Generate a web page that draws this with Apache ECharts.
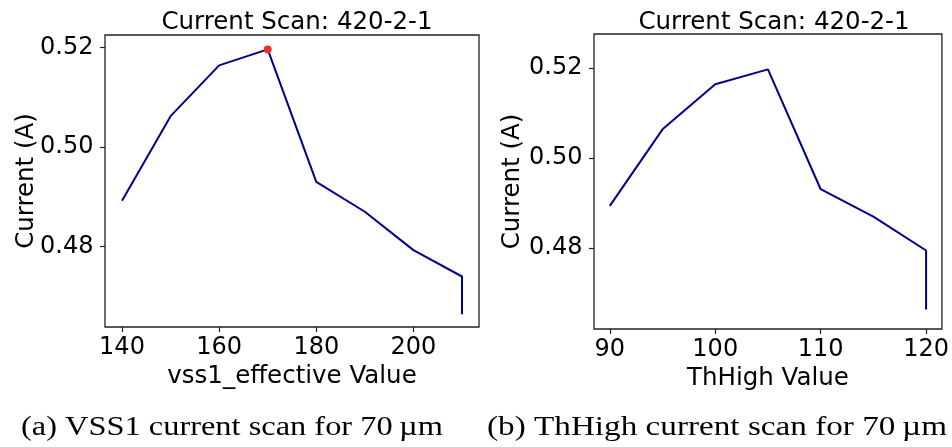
<!DOCTYPE html>
<html>
<head>
<meta charset="utf-8">
<script src="https://cdn.jsdelivr.net/npm/echarts@6/dist/echarts.min.js"></script>
<style>
  html, body { margin: 0; padding: 0; background: #ffffff; }
  #chart { width: 952px; height: 447px; }
</style>
</head>
<body>
<div id="chart"></div>
<script>
// Scan data: supply current versus register setting
const scanTitle = 'Current Scan: 420-2-1';
const currentAxisName = 'Current (A)';

const vssValues = [140, 150, 160, 170, 180, 190, 200, 210, 210];
const vssCurrent = [0.4892, 0.5062, 0.5164, 0.5196, 0.4930, 0.4870, 0.4793, 0.4740, 0.4664];
const vssAxisName = 'vss1_effective Value';
const vssTicks = [140, 160, 180, 200];

const thHighValues = [90, 95, 100, 105, 110, 115, 120, 120];
const thHighCurrent = [0.4894, 0.5064, 0.5164, 0.5197, 0.4931, 0.4870, 0.4795, 0.4664];
const thHighAxisName = 'ThHigh Value';
const thHighTicks = [90, 100, 110, 120];

const currentTicks = [0.48, 0.50, 0.52];

const captionA = '(a) VSS1 current scan for 70\u2009\u00b5m';
const captionB = '(b) ThHigh current scan for 70\u2009\u00b5m';

const SANS = '"DejaVu Sans", sans-serif';
const SERIF = '"Liberation Serif", "DejaVu Serif", serif';
const LINE = '#00008b';
const FRAME = '#222222';

const pairs = (xs, ys) => xs.map((x, i) => [x, ys[i]]);
const peakIndex = vssCurrent.indexOf(Math.max(...vssCurrent));

function xAxis(gridIndex, min, max, ticks, name) {
  return {
    type: 'value', gridIndex, min, max, name,
    nameLocation: 'middle', nameGap: 37, nameMoveOverlap: false,
    nameTextStyle: { fontFamily: SANS, fontSize: 24.5, color: '#000' },
    axisLine: { show: false },
    splitLine: { show: false },
    axisTick: { show: true, inside: false, length: 5, customValues: ticks,
                lineStyle: { color: FRAME, width: 1.2 } },
    axisLabel: { customValues: ticks, fontFamily: SANS, fontSize: 24, color: '#000',
                 margin: 9, formatter: v => String(v) }
  };
}

function yAxis(gridIndex, min, max, ticks, nameGap) {
  return {
    type: 'value', gridIndex, min, max, name: currentAxisName,
    nameLocation: 'middle', nameGap, nameRotate: 90, nameMoveOverlap: false,
    nameTextStyle: { fontFamily: SANS, fontSize: 24.5, color: '#000' },
    axisLine: { show: false },
    splitLine: { show: false },
    axisTick: { show: true, inside: false, length: 5, customValues: ticks,
                lineStyle: { color: FRAME, width: 1.2 } },
    axisLabel: { customValues: ticks, fontFamily: SANS, fontSize: 24, color: '#000',
                 margin: 11.5, formatter: v => v.toFixed(2) }
  };
}

// fit a serif caption to its target width
const measureCtx = document.createElement('canvas').getContext('2d');
function caption(text, cx, cy, width) {
  const font = '27px ' + SERIF;
  measureCtx.font = font;
  const w = measureCtx.measureText(text).width;
  return {
    type: 'text', x: cx, y: cy, scaleX: width / w,
    style: { text, font, fill: '#000', align: 'center', verticalAlign: 'middle' }
  };
}

const titleStyle = { fontFamily: SANS, fontSize: 24.5, fontWeight: 'normal', color: '#000' };

const chart = echarts.init(document.getElementById('chart'), null, { renderer: 'canvas' });
chart.setOption({
  animation: false,
  backgroundColor: '#ffffff',
  title: [
    { text: scanTitle, left: 292, top: 5, textAlign: 'center', textStyle: titleStyle },
    { text: scanTitle, left: 769, top: 5, textAlign: 'center', textStyle: titleStyle }
  ],
  grid: [
    { left: 105, top: 35, width: 374, height: 292, show: true,
      borderColor: FRAME, borderWidth: 1.3, backgroundColor: 'transparent' },
    { left: 594, top: 34, width: 351, height: 295, show: true,
      borderColor: FRAME, borderWidth: 1.3, backgroundColor: 'transparent' }
  ],
  xAxis: [
    xAxis(0, 136.5, 213.5, vssTicks, vssAxisName),
    xAxis(1, 88.5, 121.5, thHighTicks, thHighAxisName)
  ],
  yAxis: [
    yAxis(0, 0.46386, 0.52249, currentTicks, 66),
    yAxis(1, 0.46207, 0.52756, currentTicks, 69)
  ],
  series: [
    { type: 'line', xAxisIndex: 0, yAxisIndex: 0, data: pairs(vssValues, vssCurrent),
      showSymbol: false, symbol: 'none', lineStyle: { color: LINE, width: 2 }, z: 2 },
    { type: 'scatter', xAxisIndex: 0, yAxisIndex: 0,
      data: [[vssValues[peakIndex], vssCurrent[peakIndex]]],
      symbolSize: 8, itemStyle: { color: '#e8302a', opacity: 1 }, z: 3 },
    { type: 'line', xAxisIndex: 1, yAxisIndex: 1, data: pairs(thHighValues, thHighCurrent),
      showSymbol: false, symbol: 'none', lineStyle: { color: LINE, width: 2 }, z: 2 }
  ],
  graphic: [
    caption(captionA, 232, 428, 422),
    caption(captionB, 717, 428, 460)
  ]
});
</script>
</body>
</html>
